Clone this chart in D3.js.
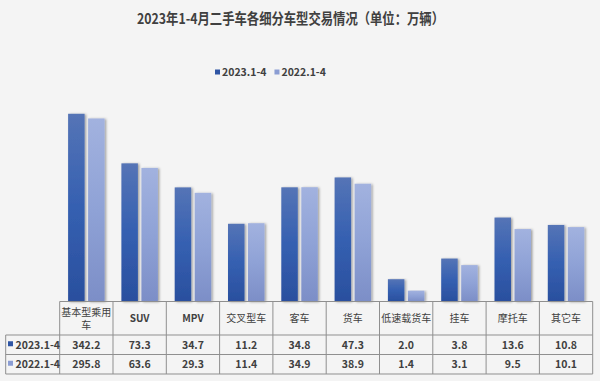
<!DOCTYPE html>
<html lang="zh">
<head>
<meta charset="UTF-8">
<title>二手车各细分车型交易情况</title>
<script src="https://d3js.org/d3.v7.min.js"></script>
<style>
    body { margin: 0; background: #f4f4f4; }
    svg { display: block; background: #f4f4f4; font-family: "Noto Sans CJK SC", "Noto Sans", sans-serif; }
</style>
</head>
<body>
<svg id="chart" width="600" height="381"></svg>
<script>
// data
const categories = ["基本型乘用车", "SUV", "MPV", "交叉型车", "客车", "货车", "低速载货车", "挂车", "摩托车", "其它车"];
const series = ["2023.1-4", "2022.1-4"];
const values2023 = [342.2, 73.3, 34.7, 11.2, 34.8, 47.3, 2.0, 3.8, 13.6, 10.8];
const values2022 = [295.8, 63.6, 29.3, 11.4, 34.9, 38.9, 1.4, 3.1, 9.5, 10.1];
const title = "2023年1-4月二手车各细分车型交易情况（单位：万辆）";

const seriesValues = [values2023, values2022];
const keyColors = ["#2f55a4", "#8b9dd3"];

const svg = d3.select("#chart");
const textColor = "#404040";
const gridColor = "#8f8f8f";

// plot area
const left = 59.7, right = 592.7, base = 301.5;
const x = d3.scaleBand().domain(categories).range([left, right]).padding(0);
const groupW = 36.5;
const xs = d3.scaleBand().domain(d3.range(series.length))
    .range([0, groupW]).paddingInner(0.175).paddingOuter(0);
// bar heights follow a log axis (hidden)
const y = d3.scaleLog().domain([1, 1000]).range([base, base - 3 * 74.07]);

// gradients + shadow
const defs = svg.append("defs");
const grads = [
    ["#5574b6", "#3560b1", "#2a4f9e"],
    ["#a2b2df", "#8fa2d6", "#7c8ec7"]
];
grads.forEach((g, i) => {
    const lg = defs.append("linearGradient").attr("id", "g" + i)
        .attr("x1", 0).attr("y1", 0).attr("x2", 0).attr("y2", 1);
    lg.append("stop").attr("offset", "0%").attr("stop-color", g[0]);
    lg.append("stop").attr("offset", "50%").attr("stop-color", g[1]);
    lg.append("stop").attr("offset", "100%").attr("stop-color", g[2]);
});
defs.append("filter").attr("id", "shadow")
    .attr("x", "-20%").attr("y", "-5%").attr("width", "160%").attr("height", "120%")
    .append("feDropShadow")
    .attr("dx", 1.5).attr("dy", 0.5).attr("stdDeviation", 1)
    .attr("flood-color", "#000").attr("flood-opacity", 0.35);

// title
svg.append("text")
    .attr("x", 137).attr("y", 24)
    .attr("font-size", 14.5).attr("font-weight", "bold")
    .attr("textLength", 307).attr("lengthAdjust", "spacingAndGlyphs")
    .attr("fill", textColor)
    .text(title);

// legend
const legend = svg.append("g").attr("transform", "translate(215,73)");
let lx = 0;
series.forEach((s, i) => {
    legend.append("rect").attr("x", lx).attr("y", -3.5).attr("width", 5).attr("height", 5)
        .attr("fill", keyColors[i]);
    const t = legend.append("text").attr("x", lx + 7).attr("y", 0)
        .attr("dominant-baseline", "middle")
        .attr("font-size", 10.5).attr("font-weight", 600)
        .attr("fill", textColor).text(s);
    lx += 7 + t.node().getComputedTextLength() + 8;
});

// bars
categories.forEach((c, ci) => {
    const g = svg.append("g")
        .attr("transform", `translate(${x(c) + (x.bandwidth() - groupW) / 2},0)`);
    seriesValues.forEach((vals, si) => {
        g.append("rect")
            .attr("x", xs(si))
            .attr("y", y(vals[ci]))
            .attr("width", xs.bandwidth())
            .attr("height", base - y(vals[ci]))
            .attr("fill", `url(#g${si})`)
            .attr("filter", "url(#shadow)");
    });
});

// data table
const tableLeft = 5.7;
const rowTops = [base, 335, 354.5, 374];
const table = svg.append("g").attr("stroke", gridColor).attr("stroke-width", 1).attr("fill", "none");
// horizontal lines
table.append("line").attr("x1", left).attr("x2", right).attr("y1", rowTops[0]).attr("y2", rowTops[0]);
rowTops.slice(1).forEach(ty => {
    table.append("line").attr("x1", tableLeft).attr("x2", right).attr("y1", ty).attr("y2", ty);
});
// vertical lines
table.append("line").attr("x1", tableLeft).attr("x2", tableLeft).attr("y1", rowTops[1]).attr("y2", rowTops[3]);
categories.forEach(c => {
    table.append("line").attr("x1", x(c)).attr("x2", x(c)).attr("y1", rowTops[0]).attr("y2", rowTops[3]);
});
table.append("line").attr("x1", right).attr("x2", right).attr("y1", rowTops[0]).attr("y2", rowTops[3]);

// category header
categories.forEach(c => {
    const cx = x(c) + x.bandwidth() / 2;
    const lines = c.length > 5 ? [c.slice(0, 5), c.slice(5)] : [c];
    const t = svg.append("text")
        .attr("text-anchor", "middle")
        .attr("font-size", 10).attr("fill", textColor)
        .attr("font-weight", /^[A-Z]+$/.test(c) ? 600 : 400);
    if (lines.length === 1) {
        t.attr("x", cx).attr("y", (rowTops[0] + rowTops[1]) / 2 + 3.5).text(c);
    } else {
        lines.forEach((l, li) => {
            t.append("tspan").attr("x", cx).attr("y", 315.5 + li * 13.5).text(l);
        });
    }
});

// value rows
seriesValues.forEach((vals, si) => {
    const cy = (rowTops[si + 1] + rowTops[si + 2]) / 2;
    svg.append("rect").attr("x", 8).attr("y", cy - 3.5).attr("width", 5).attr("height", 5)
        .attr("fill", keyColors[si]);
    svg.append("text").attr("x", 15.5).attr("y", cy + 4)
        .attr("font-size", 10.5).attr("font-weight", 600).attr("fill", textColor)
        .text(series[si]);
    vals.forEach((v, ci) => {
        svg.append("text")
            .attr("x", x(categories[ci]) + x.bandwidth() / 2)
            .attr("y", cy + 4)
            .attr("text-anchor", "middle")
            .attr("font-size", 10.5).attr("font-weight", 600).attr("fill", textColor)
            .text(v.toFixed(1));
    });
});
</script>
</body>
</html>
